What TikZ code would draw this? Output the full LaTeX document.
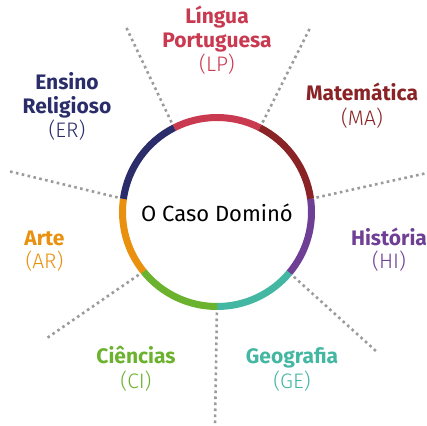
\documentclass[tikz,border=0pt]{standalone}
\usepackage{fontspec}
\setmainfont{Fira Sans}
\newfontfamily\lightfont{Fira Sans Light}
\definecolor{lpred}{HTML}{C9394F}
\definecolor{madark}{HTML}{8A2326}
\definecolor{hipurple}{HTML}{6F3F95}
\definecolor{geteal}{HTML}{44B7A3}
\definecolor{cigreen}{HTML}{6BB22E}
\definecolor{arorange}{HTML}{E9910F}
\definecolor{ernavy}{HTML}{2B2D6B}
\definecolor{spokegray}{HTML}{9B9B9B}
\tikzset{
  spoke/.style={draw=spokegray, line width=2.6pt, dash pattern=on 2.6pt off 3.4pt},
  ringseg/.style={line width=7pt},
  title/.style={font=\fontsize{21}{24}\selectfont\bfseries, anchor=base, inner sep=0pt},
  abbr/.style={font=\fontsize{21}{24}\selectfont\lightfont, anchor=base, inner sep=0pt},
}
\begin{document}
\begin{tikzpicture}[x=1pt,y=-1pt]
\useasboundingbox (0,0) rectangle (427,425);
\coordinate (c) at (217,212);
\def\R{94.5}
% boundary points (angles negated because y points down)
\path (c) ++(-63:\R) coordinate (b1);
\path (c) ++(-117:\R) coordinate (b2);
\path (c) ++(-172:\R) coordinate (b3);
\path (c) ++(-219:\R) coordinate (b4);
\path (c) ++(-270:\R) coordinate (b5);
\path (c) ++(-320:\R) coordinate (b6);
\path (c) ++(-368:\R) coordinate (b7);
% free ends of spokes
\coordinate (e1) at (310,28);
\coordinate (e2) at (126,27);
\coordinate (e3) at (8,171);
\coordinate (e4) at (47,338);
\coordinate (e5) at (215,425);
\coordinate (e6) at (377,352);
\coordinate (e7) at (427,173);
\foreach \i in {1,...,7} {\draw[spoke] (b\i) -- (e\i);}
% ring
\draw[ringseg, lpred] (b2) arc[start angle=-117, end angle=-63, radius=\R];
\draw[ringseg, madark] (b1) arc[start angle=-63, end angle=-8, radius=\R];
\draw[ringseg, hipurple] (b7) arc[start angle=-8, end angle=40, radius=\R];
\draw[ringseg, geteal] (b6) arc[start angle=40, end angle=90, radius=\R];
\draw[ringseg, cigreen] (b5) arc[start angle=90, end angle=141, radius=\R];
\draw[ringseg, arorange] (b4) arc[start angle=141, end angle=188, radius=\R];
\draw[ringseg, ernavy] (b3) arc[start angle=188, end angle=243, radius=\R];
\node[font=\fontsize{22}{24}\selectfont, anchor=base, inner sep=0pt] (hub) at (217,221.5) {O Caso Dominó};
% labels
\node[title, text=lpred] (lp1) at (217,24) {Língua};
\node[title, text=lpred] (lp2) at (217,48) {Portuguesa};
\node[abbr, text=lpred] (lp3) at (217,72) {(LP)};
\node[title, text=madark] (ma1) at (362,100) {Matemática};
\node[abbr, text=madark] (ma2) at (362,125) {(MA)};
\node[title, text=ernavy] (er1) at (67,89) {Ensino};
\node[title, text=ernavy] (er2) at (67,113) {Religioso};
\node[abbr, text=ernavy] (er3) at (67,137) {(ER)};
\node[title, text=arorange] (ar1) at (44.5,245) {Arte};
\node[abbr, text=arorange] (ar2) at (44.5,268) {(AR)};
\node[title, text=hipurple] (hi1) at (389,245) {História};
\node[abbr, text=hipurple] (hi2) at (389,268) {(HI)};
\node[title, text=cigreen] (ci1) at (136,363) {Ciências};
\node[abbr, text=cigreen] (ci2) at (136,388) {(CI)};
\node[title, text=geteal] (ge1) at (292,363) {Geografia};
\node[abbr, text=geteal] (ge2) at (292,388) {(GE)};
\end{tikzpicture}
\end{document}
